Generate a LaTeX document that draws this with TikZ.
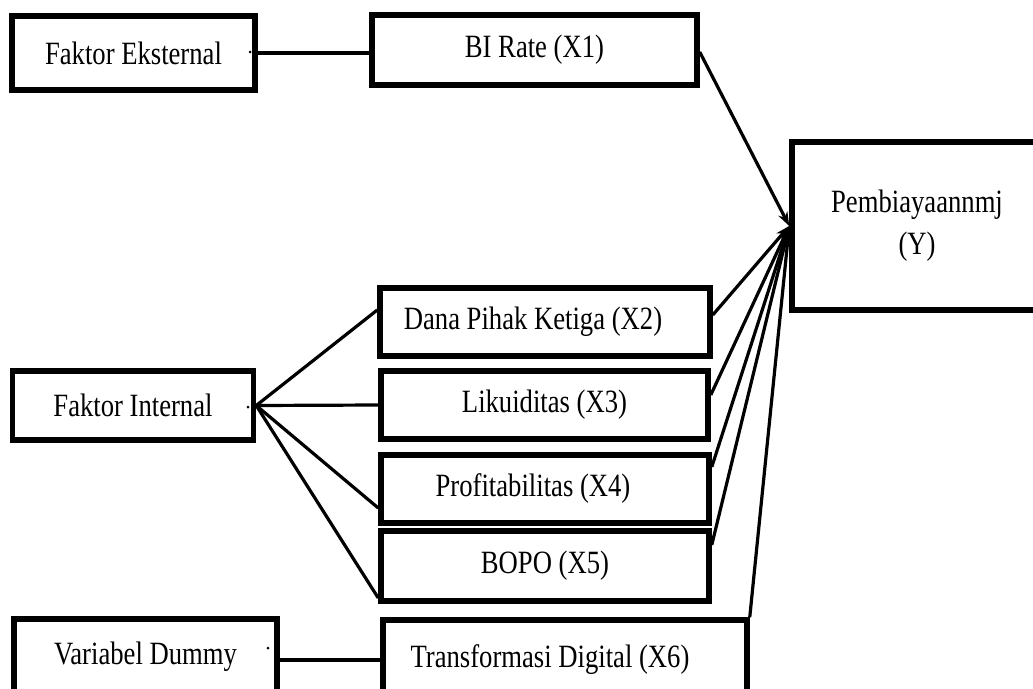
\documentclass[tikz,border=0pt]{standalone}
\usepackage{fontspec}
\setmainfont{Liberation Serif}[FakeStretch=0.82]
\usetikzlibrary{arrows.meta}
\begin{document}
\begin{tikzpicture}[x=1pt,y=-1pt,
  box/.style={draw, line width=5.5pt, inner sep=0pt, align=center,
    font=\fontsize{32.5}{42}\selectfont},
  conn/.style={line width=3.2pt},
  arr/.style={conn, -{Stealth[length=14pt,width=10pt]}}]
\useasboundingbox (0,0) rectangle (1033,688);
\fill[white] (0,0) rectangle (1033,688);
\clip (0,0) rectangle (1033,688);

\node[box, minimum width=243pt, minimum height=74pt] (fe) at (133.5,53) {Faktor Eksternal};
\node[box, minimum width=325pt, minimum height=70pt] (bi) at (534.5,50) {BI Rate (X1)};
\node[box, minimum width=280pt, minimum height=168pt] (y) at (932,226) {Pembiayaannmj\hspace*{30pt}\\(Y)\hspace*{30pt}};
\node[box, minimum width=241pt, minimum height=69pt] (fi) at (133,405.5) {Faktor Internal};
\node[box, minimum width=330pt, minimum height=68pt] (x2) at (545,322) {Dana Pihak Ketiga (X2)\hspace*{24pt}};
\node[box, minimum width=327pt, minimum height=68pt] (x3) at (544.5,405) {Likuiditas (X3)};
\node[box, minimum width=328pt, minimum height=68pt] (x4) at (545,489) {Profitabilitas (X4)\hspace*{24pt}};
\node[box, minimum width=328pt, minimum height=70pt] (x5) at (545,566) {BOPO (X5)};
\node[box, minimum width=263pt, minimum height=76pt] (vd) at (145.5,657) {Variabel Dummy};
\node[box, minimum width=364pt, minimum height=80pt] (x6) at (565,660) {Transformasi Digital (X6)\hspace*{30pt}};

\draw[conn] (fe.east) -- (fe.east -| bi.west);
\draw[arr] ([yshift=-2pt]bi.east) -- (y.west);
\draw[arr] ([yshift=7pt]x2.east) -- (y.west);
\draw[arr] ([yshift=10pt]x3.east) -- (y.west);
\draw[arr] ([yshift=22pt]x4.east) -- (y.west);
\draw[arr] ([yshift=21pt]x5.east) -- (y.west);
\draw[arr] (x6.north east) -- (y.west);

\draw[conn] (fi.east) -- ([yshift=12pt]x2.west);
\draw[conn] (fi.east) -- (x3.west);
\draw[conn] (fi.east) -- ([yshift=-19pt]x4.west);
\draw[conn] (fi.east) -- ([yshift=-32pt]x5.west);
\draw[conn] ([yshift=-3pt]vd.east) -- ([yshift=-3pt]vd.east -| x6.west);

\fill (250,52) circle (1.5pt);
\fill (248,407) circle (1.5pt);
\fill (268,648) circle (1.5pt);
\end{tikzpicture}
\end{document}
